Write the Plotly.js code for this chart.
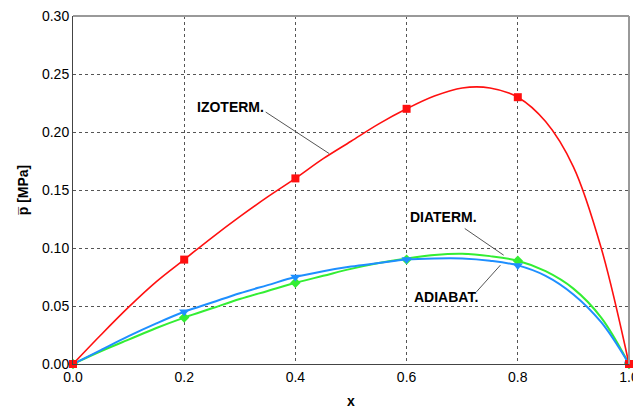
<!DOCTYPE html>
<html>
<head>
<meta charset="utf-8">
<script src="https://cdn.plot.ly/plotly-3.0.1.min.js"></script>
<style>html,body{margin:0;padding:0;background:#fff;}#chart{width:633px;height:409px;}</style>
</head>
<body>
<div id="chart"></div>
<script>
// Measured nodes (markers)
const xNodes = [0.0, 0.2, 0.4, 0.6, 0.8, 1.0];
const izoNodes = [0.0, 0.09, 0.16, 0.22, 0.23, 0.0];
const diaNodes = [0.0, 0.04, 0.07, 0.09, 0.089, 0.0];
const adiNodes = [0.0, 0.045, 0.075, 0.09, 0.085, 0.0];

// Curves
const xCurve = [0, 0.05, 0.1, 0.15, 0.2, 0.25, 0.3, 0.35, 0.4, 0.45, 0.5, 0.55, 0.6, 0.65, 0.7, 0.75, 0.8, 0.85, 0.9, 0.95, 1.0];
const izoCurve = [0, 0.025, 0.049, 0.071, 0.09, 0.109, 0.127, 0.144, 0.16, 0.177, 0.192, 0.207, 0.22, 0.231, 0.238, 0.238, 0.23, 0.209, 0.17, 0.10, 0];
const diaCurve = [0, 0.011, 0.021, 0.031, 0.04, 0.048, 0.056, 0.063, 0.07, 0.076, 0.082, 0.087, 0.091, 0.094, 0.095, 0.093, 0.089, 0.08, 0.065, 0.04, 0];
const adiCurve = [0, 0.012, 0.024, 0.035, 0.045, 0.053, 0.061, 0.068, 0.075, 0.08, 0.084, 0.087, 0.09, 0.091, 0.091, 0.089, 0.085, 0.076, 0.06, 0.036, 0];

const labels = ["IZOTERM.", "DIATERM.", "ADIABAT."];
const xTicks = [0, 0.2, 0.4, 0.6, 0.8, 1.0];
const xTickText = ["0.0", "0.2", "0.4", "0.6", "0.8", "1.0"];
const yTicks = [0, 0.05, 0.1, 0.15, 0.2, 0.25, 0.3];
const yTickText = ["0.00", "0.05", "0.10", "0.15", "0.20", "0.25", "0.30"];

const RED = "#ff1010", GREEN = "#33ee33", BLUE = "#1e8fff";

const traces = [
  {x: xCurve, y: diaCurve, mode: "lines", line: {color: GREEN, width: 2, shape: "spline"}, hoverinfo: "skip"},
  {x: xNodes, y: diaNodes, mode: "markers", marker: {color: GREEN, symbol: "diamond", size: 8}, cliponaxis: false},
  {x: xCurve, y: adiCurve, mode: "lines", line: {color: BLUE, width: 2, shape: "spline"}, hoverinfo: "skip"},
  {x: xNodes, y: adiNodes, mode: "markers", marker: {color: BLUE, symbol: "triangle-down", size: 9}, cliponaxis: false},
  {x: xCurve, y: izoCurve, mode: "lines", line: {color: RED, width: 1.6, shape: "spline"}, hoverinfo: "skip"},
  {x: xNodes, y: izoNodes, mode: "markers", marker: {color: RED, symbol: "square", size: 8}, cliponaxis: false}
];

const font = {family: "Liberation Sans, Arial, sans-serif", size: 14, color: "#000"};
const annFont = {family: "Liberation Sans, Arial, sans-serif", size: 14, color: "#000"};

const layout = {
  width: 633, height: 409,
  margin: {l: 73, r: 4, t: 16, b: 45},
  paper_bgcolor: "#fff", plot_bgcolor: "#fff",
  showlegend: false,
  font: font,
  xaxis: {
    range: [0, 1], tickvals: xTicks, ticktext: xTickText,
    showgrid: true, gridcolor: "#555", griddash: "dot", gridwidth: 1,
    zeroline: false, showline: true, linecolor: "#444", linewidth: 1,
    ticks: "", ticklen: 0, tickfont: font, ticklabeloverflow: "allow",
    title: {text: "<b>x</b>", font: {family: font.family, size: 14, color: "#000"}, standoff: 16}
  },
  yaxis: {
    range: [0, 0.3], tickvals: yTicks, ticktext: yTickText,
    showgrid: true, gridcolor: "#555", griddash: "dot", gridwidth: 1,
    zeroline: false, showline: true, linecolor: "#444", linewidth: 1,
    ticks: "", ticklen: 0, tickfont: font,
    title: {text: "<b>p\u0305 [MPa]</b>", font: {family: font.family, size: 14, color: "#000"}, standoff: 10}
  },
  shapes: [
    {type: "line", xref: "paper", yref: "paper", x0: 0, x1: 1, y0: 1, y1: 1, line: {color: "#999", width: 2}},
    {type: "line", xref: "paper", yref: "paper", x0: 1, x1: 1, y0: 0, y1: 1, line: {color: "#999", width: 2}},
    {type: "line", xref: "x", yref: "y", x0: 0.3466, y0: 0.2172, x1: 0.4608, y1: 0.1814, line: {color: "#555", width: 1}},
    {type: "line", xref: "x", yref: "y", x0: 0.7046, y0: 0.1168, x1: 0.7746, y1: 0.0938, line: {color: "#555", width: 1}},
    {type: "line", xref: "x", yref: "y", x0: 0.7256, y0: 0.0622, x1: 0.7687, y1: 0.0852, line: {color: "#555", width: 1}}
  ],
  annotations: [
    {x: 0.2829, y: 0.2215, xref: "x", yref: "y", text: "<b>" + labels[0] + "</b>", showarrow: false, font: annFont},
    {x: 0.667, y: 0.1263, xref: "x", yref: "y", text: "<b>" + labels[1] + "</b>", showarrow: false, font: annFont},
    {x: 0.6717, y: 0.0579, xref: "x", yref: "y", text: "<b>" + labels[2] + "</b>", showarrow: false, font: annFont}
  ]
};

Plotly.newPlot("chart", traces, layout, {displayModeBar: false, staticPlot: true});
</script>
</body>
</html>
